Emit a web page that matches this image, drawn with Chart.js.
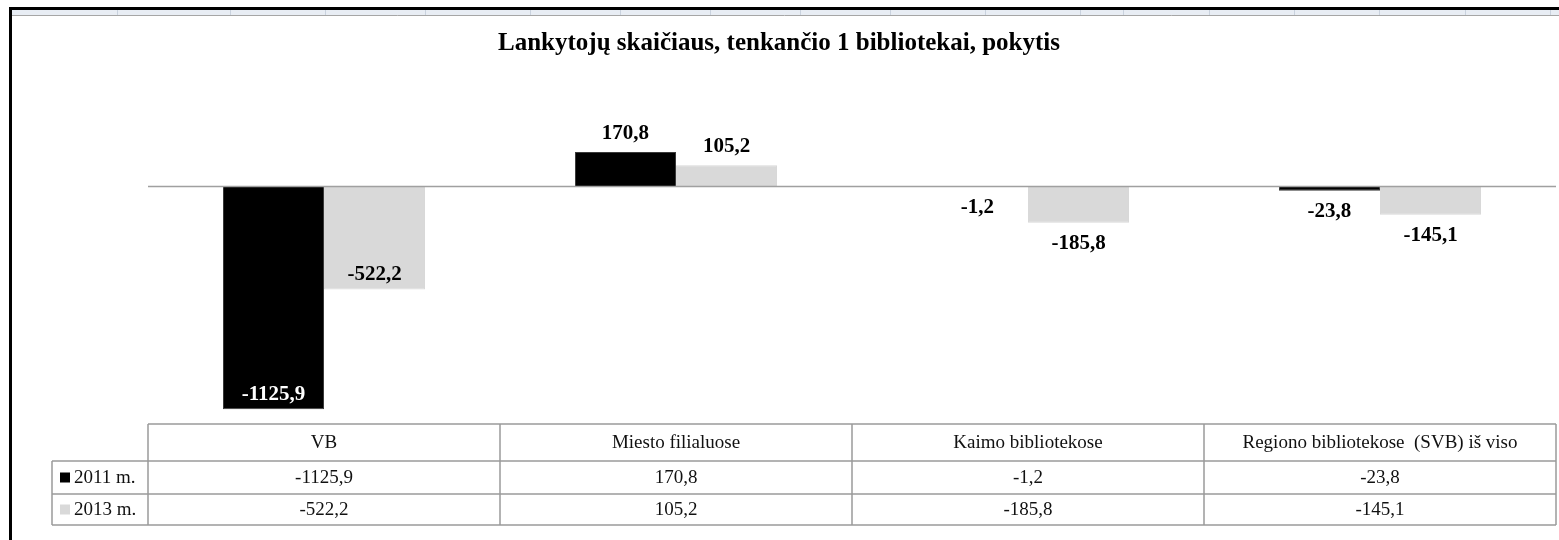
<!DOCTYPE html>
<html>
<head>
<meta charset="utf-8">
<script src="https://cdn.jsdelivr.net/npm/chart.js@4"></script>
<style>
  body { margin: 0; background: #fff; }
  #wrap { width: 1559px; height: 540px; }
</style>
</head>
<body>
<div id="wrap"><canvas id="chart" width="1559" height="540"></canvas></div>
<script>
const categories = ["VB", "Miesto filialuose", "Kaimo bibliotekose", "Regiono bibliotekose  (SVB) iš viso"];
const seriesNames = ["2011 m.", "2013 m."];
const values2011 = [-1125.9, 170.8, -1.2, -23.8];
const values2013 = [-522.2, 105.2, -185.8, -145.1];
const seriesColors = ["#000000", "#d9d9d9"];
const titleText = "Lankytojų skaičiaus, tenkančio 1 bibliotekai, pokytis";

// spreadsheet column separators peeking above the chart frame
const sheetCols = [117, 230, 325, 425, 530, 620, 710, 800, 890, 985, 1080, 1123, 1209, 1294, 1379, 1465, 1550];

const fmt = (v) => v.toFixed(1).replace(".", ",");
const serif = '"Liberation Serif", "Times New Roman", serif';

const decorPlugin = {
  id: "decor",
  afterDraw(chart) {
    const ctx = chart.ctx;
    const area = chart.chartArea;
    const x = chart.scales.x;
    const y = chart.scales.y;
    ctx.save();

    // sheet strip + frame
    ctx.fillStyle = "#e8edf4";
    ctx.fillRect(10, 10, 1549, 5);
    ctx.strokeStyle = "#c9d2de";
    ctx.lineWidth = 1;
    sheetCols.forEach((cx) => {
      ctx.beginPath();
      ctx.moveTo(cx + 0.5, 10);
      ctx.lineTo(cx + 0.5, 15);
      ctx.stroke();
    });
    ctx.strokeStyle = "#a6a6a6";
    ctx.beginPath();
    ctx.moveTo(10, 15.5);
    ctx.lineTo(1559, 15.5);
    ctx.stroke();
    ctx.fillStyle = "#000";
    ctx.fillRect(10, 7, 1549, 3);
    ctx.fillRect(9, 7, 3, 533);

    // title
    ctx.fillStyle = "#000";
    ctx.font = "bold 25px " + serif;
    ctx.textAlign = "center";
    ctx.textBaseline = "middle";
    ctx.fillText(titleText, 779, 44);

    // zero line
    const y0 = Math.round(y.getPixelForValue(0)) + 0.5;
    ctx.strokeStyle = "#a0a0a0";
    ctx.lineWidth = 1.5;
    ctx.beginPath();
    ctx.moveTo(area.left, y0);
    ctx.lineTo(area.right, y0);
    ctx.stroke();

    // data labels
    ctx.font = "bold 21px " + serif;
    chart.data.datasets.forEach((ds, di) => {
      const meta = chart.getDatasetMeta(di);
      meta.data.forEach((bar, i) => {
        const v = ds.data[i];
        const len = Math.abs(bar.y - bar.base);
        let ly;
        let color = "#000";
        if (v >= 0) {
          ly = bar.y - 19;
        } else if (len > 60) {
          ly = bar.y - 15;
          if (di === 0) color = "#fff";
        } else {
          ly = bar.y + 21;
        }
        ctx.fillStyle = color;
        ctx.fillText(fmt(v), bar.x, ly);
      });
    });

    // data table
    const colW = area.width / categories.length;
    const top = area.bottom;
    const rowY = [top, top + 37, top + 70, top + 101];
    const legendLeft = 52;
    ctx.strokeStyle = "#9a9a9a";
    ctx.lineWidth = 1.5;
    const hline = (x1, x2, yy) => {
      ctx.beginPath();
      ctx.moveTo(x1, yy);
      ctx.lineTo(x2, yy);
      ctx.stroke();
    };
    const vline = (xx, y1, y2) => {
      ctx.beginPath();
      ctx.moveTo(xx, y1);
      ctx.lineTo(xx, y2);
      ctx.stroke();
    };
    hline(area.left, area.right, rowY[0]);
    hline(legendLeft, area.right, rowY[1]);
    hline(legendLeft, area.right, rowY[2]);
    hline(legendLeft, area.right, rowY[3]);
    vline(legendLeft, rowY[1], rowY[3]);
    for (let i = 0; i <= categories.length; i++) {
      vline(area.left + i * colW, rowY[0], rowY[3]);
    }

    ctx.font = "19px " + serif;
    ctx.fillStyle = "#111";
    ctx.textAlign = "center";
    categories.forEach((c, i) => {
      const cx = x.getPixelForValue(i);
      ctx.fillText(c, cx, (rowY[0] + rowY[1]) / 2 + 1);
    });
    chart.data.datasets.forEach((ds, di) => {
      const cy = (rowY[di + 1] + rowY[di + 2]) / 2 + 1;
      ds.data.forEach((v, i) => {
        ctx.fillStyle = "#111";
        ctx.textAlign = "center";
        ctx.fillText(fmt(v), x.getPixelForValue(i), cy);
      });
      ctx.fillStyle = seriesColors[di];
      ctx.fillRect(legendLeft + 8, cy - 6, 10, 10);
      ctx.fillStyle = "#111";
      ctx.textAlign = "left";
      ctx.fillText(ds.label, legendLeft + 22, cy);
    });

    ctx.restore();
  },
};

new Chart(document.getElementById("chart"), {
  type: "bar",
  data: {
    labels: categories,
    datasets: [
      {
        label: seriesNames[0],
        data: values2011,
        backgroundColor: seriesColors[0],
        borderColor: "#3a3a3a",
        borderWidth: 1,
        barPercentage: 1,
        categoryPercentage: 0.574,
      },
      {
        label: seriesNames[1],
        data: values2013,
        backgroundColor: seriesColors[1],
        borderColor: seriesColors[1],
        borderWidth: 1,
        barPercentage: 1,
        categoryPercentage: 0.574,
      },
    ],
  },
  options: {
    responsive: false,
    animation: false,
    layout: { padding: { left: 148, right: 3, top: 67, bottom: 116 } },
    plugins: {
      legend: { display: false },
      tooltip: { enabled: false },
      title: { display: false },
    },
    scales: {
      x: { display: false },
      y: { display: false, min: -1200, max: 600 },
    },
  },
  plugins: [decorPlugin],
});
</script>
</body>
</html>
